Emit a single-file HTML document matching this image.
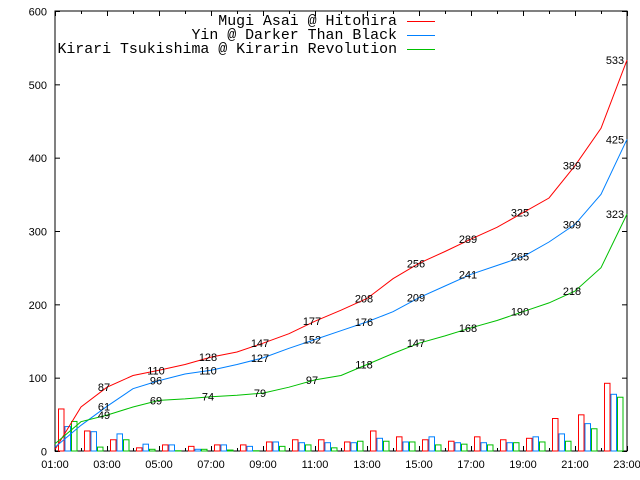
<!DOCTYPE html>
<html><head><meta charset="utf-8"><style>
html,body{margin:0;padding:0;background:#fff;}
svg{display:block;}
text{font-family:"Liberation Sans",sans-serif;font-size:11px;fill:#000;}
.leg{font-family:"Liberation Mono",monospace;font-size:14.9px;}
</style></head><body>
<svg id="chart" width="640" height="480" viewBox="0 0 640 480" xmlns="http://www.w3.org/2000/svg">
<g id="axes"></g>
<g id="bars"></g>
<g id="lines"></g>
<g id="labels"></g>
<g id="legend"></g>
</svg>
<script>
const hours = [1,2,3,4,5,6,7,8,9,10,11,12,13,14,15,16,17,18,19,20,21,22,23];
const xTickLabels = ["01:00","03:00","05:00","07:00","09:00","11:00","13:00","15:00","17:00","19:00","21:00","23:00"];
const yTicks = [0,100,200,300,400,500,600];
const seriesNames = ["Mugi Asai @ Hitohira","Yin @ Darker Than Black","Kirari Tsukishima @ Kirarin Revolution"];
const colors = ["#ff0000","#0080ff","#00c000"];
const redCum = [2,60,87,103,110,118,128,135,147,160,177,192,208,235,256,272,289,305,325,345,389,440,533];
const blueCum = [5,35,61,85,96,105,110,118,127,140,152,164,176,190,209,225,241,253,265,285,309,350,425];
const greenCum = [10,40,49,60,69,71,74,76,79,87,97,103,118,133,147,157,168,178,190,202,218,250,323];
const redBars = [58,28,16,5,9,7,9,9,13,16,16,13,28,20,16,14,20,16,18,45,50,93];
const blueBars = [34,27,24,10,9,3,9,7,13,12,12,12,18,13,20,12,12,12,20,24,38,78];
const greenBars = [41,6,16,3,1,3,2,1,7,9,5,14,14,13,9,10,9,12,13,14,31,74];
const labelHours = [3,5,7,9,11,13,15,17,19,21,23];

const L=55,R=627,T=11,B=451;
const X=h=>L+(h-1)*(R-L)/22;
const Y=v=>B-v*(B-T)/600;
const NS="http://www.w3.org/2000/svg";
function mk(tag,attrs,parent){const e=document.createElementNS(NS,tag);for(const k in attrs)e.setAttribute(k,attrs[k]);parent.appendChild(e);return e;}
const axes=document.getElementById('axes');
let fr=mk('rect',{x:L,y:T,width:R-L,height:B-T,fill:'none',stroke:'#000','stroke-width':1},axes);


yTicks.forEach(v=>{
  const y=Y(v)+0.5;
  mk('line',{x1:L,x2:L+5,y1:y,y2:y,stroke:'#000'},axes);
  mk('line',{x1:R,x2:R-5,y1:y,y2:y,stroke:'#000'},axes);
  const t=mk('text',{x:L-8,y:y+4,'text-anchor':'end'},axes);t.textContent=v;
  
  
});
hours.forEach(h=>{
  const x=Math.round(X(h))+0.5;
  const len=(h%2===1)?5:3;
  mk('line',{x1:x,x2:x,y1:B,y2:B-len,stroke:'#000'},axes);
  mk('line',{x1:x,x2:x,y1:T,y2:T+len,stroke:'#000'},axes);
});
xTickLabels.forEach((s,i)=>{
  const t=mk('text',{x:X(1+2*i),y:468,'text-anchor':'middle'},axes);t.textContent=s;
  
  
});
const bars=document.getElementById('bars');
const step=(R-L)/22,bw=6.5;
[redBars,blueBars,greenBars].forEach((arr,si)=>{
  arr.forEach((v,i)=>{
    const x=X(i+1)+3+si*bw;
    const r=mk('rect',{x:x+0.5,y:Y(v)+0.5,width:bw-1,height:Math.max(0,B-Y(v)-0.5),fill:'none',stroke:colors[si],'stroke-width':1},bars);
    
    
  });
});
const lines=document.getElementById('lines');
const labels=document.getElementById('labels');
[redCum,blueCum,greenCum].forEach((arr,si)=>{
  let d='';
  arr.forEach((v,i)=>{d+=(i?'L':'M')+X(hours[i]).toFixed(1)+','+Y(v).toFixed(1);});
  const p=mk('path',{d:d,fill:'none',stroke:colors[si],'stroke-width':1},lines);
  
  
  labelHours.forEach(h=>{
    const v=arr[hours.indexOf(h)];
    const t=mk('text',{x:X(h)-(h===23?12:3),y:Y(v)+4,'text-anchor':'middle'},labels);
    t.textContent=v;
    
    
  });
});
const leg=document.getElementById('legend');
seriesNames.forEach((n,i)=>{
  const y=21+i*14;
  const t=mk('text',{x:397,y:y+4,'text-anchor':'end',class:'leg'},leg);t.textContent=n;
  
  
  const l=mk('line',{x1:407,x2:435,y1:y+0.5,y2:y+0.5,stroke:colors[i]},leg);
  
  
});
</script>
</body></html>
